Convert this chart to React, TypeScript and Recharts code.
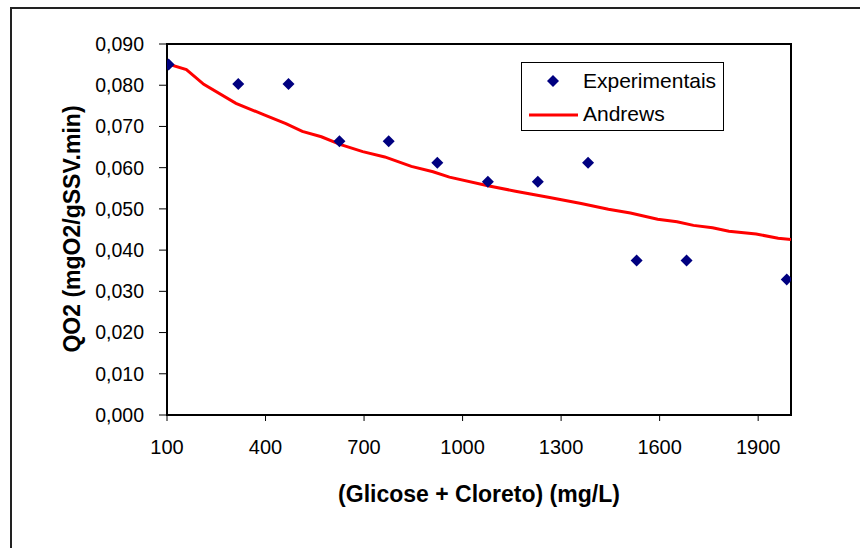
import React from "react";
import {
	ComposedChart,
	Scatter,
	XAxis,
	YAxis,
	Label,
	ReferenceArea,
} from "recharts";

// experimental points (mg/L vs QO2)
const expX = [105, 317, 470, 625, 775, 923, 1077, 1229, 1382, 1530, 1682, 1987];
const expY = [0.085, 0.0803, 0.0803, 0.0664, 0.0664, 0.0612, 0.0566, 0.0566, 0.0612, 0.0375, 0.0375, 0.0329];

// Andrews model curve
const andX = [100, 159, 212, 310, 396, 462, 512, 570, 629, 696, 763, 844, 910, 960, 1077, 1161, 1261, 1361, 1444, 1511, 1594, 1653, 1703, 1761, 1811, 1894, 1961, 2000];
const andY = [0.0852, 0.0838, 0.0802, 0.0756, 0.0728, 0.0707, 0.0688, 0.0675, 0.0656, 0.0639, 0.0626, 0.0603, 0.059, 0.0577, 0.0556, 0.0543, 0.0528, 0.0513, 0.0499, 0.049, 0.0475, 0.0469, 0.046, 0.0454, 0.0446, 0.0439, 0.0429, 0.0426];

const xTicks = [100, 400, 700, 1000, 1300, 1600, 1900];
const yTicks = [0, 0.01, 0.02, 0.03, 0.04, 0.05, 0.06, 0.07, 0.08, 0.09];

const FONT = "'Liberation Sans', Arial, sans-serif";

const expData = expX.map((x, i) => ({ x, y: expY[i] }));
const andData = andX.map((x, i) => ({ x, y: andY[i] }));

const Diamond = (props: any) => {
	const { cx, cy } = props;
	if (cx == null || cy == null) return <g />;
	const r = 6;
	return (
		<polygon
			points={`${cx},${cy - r} ${cx + r},${cy} ${cx},${cy + r} ${cx - r},${cy}`}
			fill="#000080"
		/>
	);
};

// legend drawn as a plain box over the plot (Recharts legend would shrink the plot)
const LegendBox = () => (
	<div
		style={{
			position: "absolute",
			left: 521,
			top: 62,
			width: 203,
			height: 69,
			border: "1px solid #000",
			background: "#fff",
			fontFamily: FONT,
			fontSize: 21,
			lineHeight: "24px",
			boxSizing: "border-box",
		}}
	>
		<svg width={60} height={67} style={{ position: "absolute", left: 0, top: 0 }}>
			<polygon points="31,12 37,18 31,24 25,18" fill="#000080" />
			<line x1={7} y1={52} x2={56} y2={52} stroke="#ff0000" strokeWidth={3} />
		</svg>
		<span style={{ position: "absolute", left: 61, top: 6 }}>Experimentais</span>
		<span style={{ position: "absolute", left: 61, top: 39 }}>Andrews</span>
	</div>
);

export default function App() {
	return (
		<div
			style={{
				position: "absolute",
				left: 0,
				top: 0,
				width: 860,
				height: 548,
				overflow: "hidden",
				background: "#fff",
				fontFamily: FONT,
			}}
		>
			<div
				style={{
					position: "absolute",
					left: 10,
					top: 7,
					width: 900,
					height: 600,
					borderLeft: "2px solid #222",
					borderTop: "2px solid #222",
				}}
			/>
			<div style={{ position: "absolute", left: 0, top: 0 }}>
				<ComposedChart
					width={860}
					height={548}
					margin={{ top: 44, right: 69, bottom: 53, left: 0 }}
				>
					<XAxis
						type="number"
						dataKey="x"
						domain={[100, 2000]}
						ticks={xTicks}
						allowDataOverflow
						height={80}
						axisLine={{ stroke: "#000", strokeWidth: 2 }}
						tickLine={{ stroke: "#000", strokeWidth: 1 }}
						tickSize={6}
						tickMargin={19}
						tick={{ fill: "#000", fontSize: 20, fontFamily: FONT }}
					>
						<Label
							content={() => (
								<text
									x={479}
									y={502}
									textAnchor="middle"
									fontSize={23}
									fontWeight="bold"
									fontFamily={FONT}
									fill="#000"
								>
									(Glicose + Cloreto) (mg/L)
								</text>
							)}
						/>
					</XAxis>
					<YAxis
						type="number"
						dataKey="y"
						domain={[0, 0.09]}
						ticks={yTicks}
						width={167}
						axisLine={{ stroke: "#000", strokeWidth: 2 }}
						tickLine={{ stroke: "#000", strokeWidth: 1 }}
						tickSize={8}
						tickMargin={15}
						tickFormatter={(v: number) => v.toFixed(3).replace(".", ",")}
						tick={{ fill: "#000", fontSize: 19.5, fontFamily: FONT }}
					>
						<Label
							content={() => (
								<text
									x={80}
									y={229}
									transform="rotate(-90 80 229)"
									textAnchor="middle"
									fontSize={23}
									fontWeight="bold"
									fontFamily={FONT}
									fill="#000"
								>
									QO2 (mgO2/gSSV.min)
								</text>
							)}
						/>
					</YAxis>
					<ReferenceArea
						x1={100}
						x2={2000}
						y1={0}
						y2={0.09}
						fill="none"
						stroke="#000"
						strokeWidth={2}
						ifOverflow="visible"
					/>
					<Scatter
						name="Andrews"
						data={andData}
						line={{ stroke: "#ff0000", strokeWidth: 3 }}
						lineJointType="linear"
						shape={() => <g />}
						isAnimationActive={false}
					/>
					<Scatter
						name="Experimentais"
						data={expData}
						shape={Diamond}
						isAnimationActive={false}
					/>
				</ComposedChart>
			</div>
			<LegendBox />
		</div>
	);
}
